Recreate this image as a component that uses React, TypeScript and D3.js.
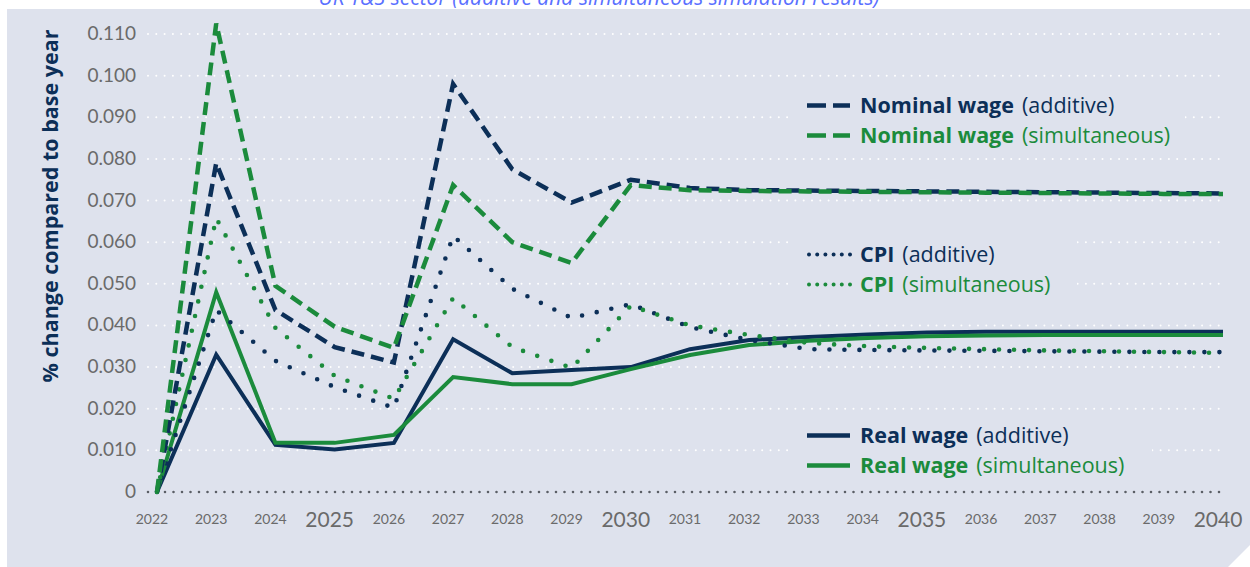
import React, { useRef, useEffect } from 'react';
import * as d3 from 'd3';

const years = [2022, 2023, 2024, 2025, 2026, 2027, 2028, 2029, 2030, 2031, 2032, 2033, 2034, 2035, 2036, 2037, 2038, 2039, 2040];
const bigYears = [2025, 2030, 2035, 2040];
const yTicks = [0, 0.01, 0.02, 0.03, 0.04, 0.05, 0.06, 0.07, 0.08, 0.09, 0.1, 0.11];

const nominalAdditive = [0, 0.079, 0.0437, 0.0348, 0.0311, 0.098, 0.0775, 0.0695, 0.075, 0.073, 0.0725, 0.0724, 0.0723, 0.0722, 0.0721, 0.072, 0.0719, 0.0718, 0.0717];
const nominalSimultaneous = [0, 0.1125, 0.0495, 0.0397, 0.0346, 0.0737, 0.060, 0.055, 0.0737, 0.0725, 0.0723, 0.0722, 0.0721, 0.072, 0.0719, 0.0718, 0.0717, 0.0716, 0.0716];
const cpiAdditive = [0, 0.0437, 0.0315, 0.0252, 0.0202, 0.0615, 0.0488, 0.0418, 0.0451, 0.0396, 0.0365, 0.0343, 0.0341, 0.034, 0.0339, 0.0338, 0.0337, 0.0336, 0.0336];
const cpiSimultaneous = [0, 0.0658, 0.0394, 0.0279, 0.0224, 0.0466, 0.0348, 0.0298, 0.0447, 0.040, 0.0377, 0.0358, 0.035, 0.0346, 0.0343, 0.034, 0.0338, 0.0336, 0.0334];
const realAdditive = [0, 0.033, 0.0113, 0.0102, 0.0118, 0.0367, 0.0285, 0.0293, 0.030, 0.0343, 0.0365, 0.0372, 0.0378, 0.0383, 0.0385, 0.0385, 0.0385, 0.0385, 0.0385];
const realSimultaneous = [0, 0.048, 0.0118, 0.0118, 0.0137, 0.0276, 0.0259, 0.0259, 0.0295, 0.0329, 0.0353, 0.0363, 0.037, 0.0374, 0.0376, 0.0377, 0.0377, 0.0377, 0.0377];

const NAVY = '#0c2f58';
const GREEN = '#1b8b3c';
const PANEL = '#dee2ed';

const series = [
  { values: realAdditive, color: NAVY, dash: null },
  { values: realSimultaneous, color: GREEN, dash: null },
  { values: cpiAdditive, color: NAVY, dash: 'dot' },
  { values: cpiSimultaneous, color: GREEN, dash: 'dot' },
  { values: nominalAdditive, color: NAVY, dash: 'dash' },
  { values: nominalSimultaneous, color: GREEN, dash: 'dash' },
];

const legendGroups = [
  { name: 'Nominal wage', dash: 'dash', baseline: 113, mask: [790, 92, 395, 58] },
  { name: 'CPI', dash: 'dot', baseline: 262, mask: [790, 236, 287, 64] },
  { name: 'Real wage', dash: null, baseline: 443, mask: [790, 420, 362, 60] },
];

const App = () => {
  const ref = useRef(null);

  useEffect(() => {
    const svg = d3.select(ref.current);
    svg.selectAll('*').remove();

    const x = d3.scaleLinear().domain([2022, 2040]).range([157, 1223]);
    const y = d3.scaleLinear().domain([0, 0.11]).range([492, 34]);

    // panel with clipped bottom-right corner
    svg.append('polygon')
      .attr('points', '7,9 1250,9 1250,545 1228,567 7,567')
      .attr('fill', PANEL);

    // title (cropped at the top of the image, as in the source)
    svg.append('text')
      .attr('x', 599).attr('y', 5)
      .attr('text-anchor', 'middle')
      .attr('font-family', 'Open Sans')
      .attr('font-style', 'italic')
      .attr('font-size', 21)
      .attr('fill', '#5a70ff')
      .text('UK T&S sector (additive and simultaneous simulation results)');

    // gridlines
    svg.append('g').selectAll('line')
      .data(yTicks)
      .enter().append('line')
      .attr('x1', 148).attr('x2', 1223)
      .attr('y1', d => y(d)).attr('y2', d => y(d))
      .attr('stroke', d => d === 0 ? '#5b5f66' : '#ffffff')
      .attr('stroke-width', d => d === 0 ? 2.6 : 2)
      .attr('stroke-linecap', 'round')
      .attr('stroke-dasharray', d => d === 0 ? '0 8.5' : '0 8.3');

    // legend masks hide the gridlines behind legend text
    svg.append('g').selectAll('rect')
      .data(legendGroups)
      .enter().append('rect')
      .attr('x', d => d.mask[0]).attr('y', d => d.mask[1])
      .attr('width', d => d.mask[2]).attr('height', d => d.mask[3])
      .attr('fill', PANEL);

    // y tick labels
    svg.append('g').selectAll('text')
      .data(yTicks)
      .enter().append('text')
      .attr('x', 136).attr('y', d => y(d) + 6)
      .attr('text-anchor', 'end')
      .attr('font-family', 'Lato')
      .attr('font-size', 19)
      .attr('fill', '#6a6a6a')
      .text(d => d === 0 ? '0' : d.toFixed(3));

    // x tick labels
    svg.append('g').selectAll('text')
      .data(years)
      .enter().append('text')
      .attr('x', d => x(d) - 5)
      .attr('y', d => bigYears.includes(d) ? 527 : 524)
      .attr('text-anchor', 'middle')
      .attr('font-family', 'Lato')
      .attr('font-size', d => bigYears.includes(d) ? 21 : 14)
      .attr('fill', '#6a6a6a')
      .text(d => d);

    // y axis title
    svg.append('text')
      .attr('transform', 'translate(58,206) rotate(-90)')
      .attr('text-anchor', 'middle')
      .attr('font-family', 'Open Sans')
      .attr('font-weight', 700)
      .attr('font-size', 21.5)
      .attr('fill', NAVY)
      .text('% change compared to base year');

    const line = d3.line()
      .x((d, i) => x(years[i]))
      .y(d => y(d))
      .curve(d3.curveLinear);

    const dashStyle = (dash) => {
      if (dash === 'dash') return { w: 4.5, arr: '13 7', cap: 'butt' };
      if (dash === 'dot') return { w: 4.6, arr: '0 15', cap: 'round' };
      return { w: 4, arr: null, cap: 'butt' };
    };

    series.forEach(s => {
      const st = dashStyle(s.dash);
      svg.append('path')
        .datum(s.values)
        .attr('d', line)
        .attr('fill', 'none')
        .attr('stroke', s.color)
        .attr('stroke-width', st.w)
        .attr('stroke-linecap', st.cap)
        .attr('stroke-linejoin', 'miter')
        .attr('stroke-dasharray', st.arr);
    });

    // legend
    legendGroups.forEach(g => {
      [
        { color: NAVY, label: '(additive)', dy: 0 },
        { color: GREEN, label: '(simultaneous)', dy: 30 },
      ].forEach(row => {
        const by = g.baseline + row.dy;
        const sy = by - 7.5;
        const st = dashStyle(g.dash);
        svg.append('line')
          .attr('x1', g.dash === 'dot' ? 809 : 807).attr('x2', 850)
          .attr('y1', sy).attr('y2', sy)
          .attr('stroke', row.color)
          .attr('stroke-width', g.dash === 'dot' ? 4 : 4.5)
          .attr('stroke-linecap', st.cap)
          .attr('stroke-dasharray', g.dash === 'dash' ? '19 7' : g.dash === 'dot' ? '0 8.2' : null);
        const t = svg.append('text')
          .attr('x', 860).attr('y', by)
          .attr('font-family', 'Open Sans')
          .attr('font-size', 21.5)
          .attr('fill', row.color);
        t.append('tspan').attr('font-weight', 700).text(g.name);
        t.append('tspan').attr('dx', 8).text(row.label);
      });
    });
  }, []);

  return (
    <svg ref={ref} width={1250} height={567}
      style={{ position: 'absolute', left: 0, top: 0, background: '#ffffff' }} />
  );
};

export default App;
